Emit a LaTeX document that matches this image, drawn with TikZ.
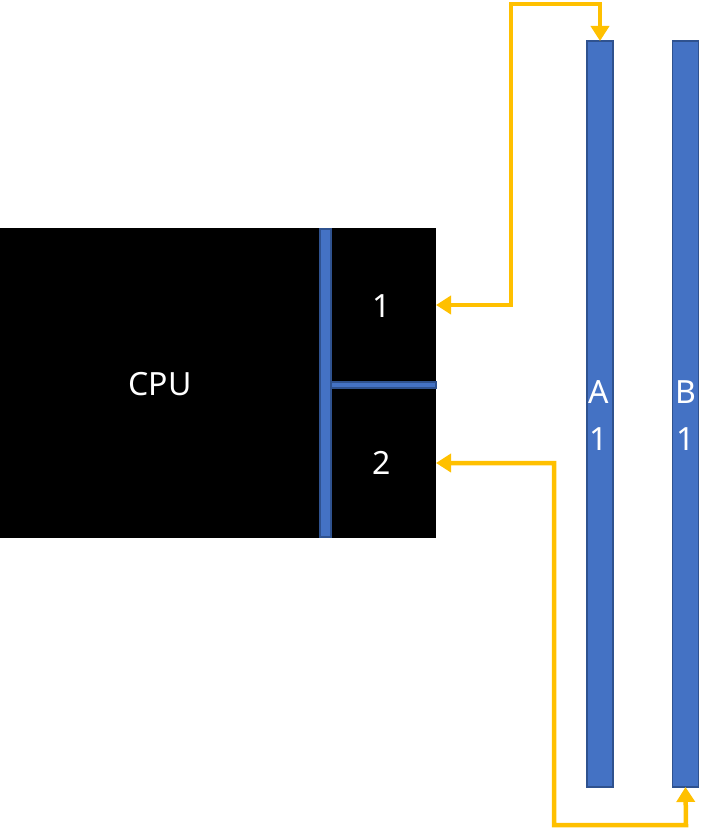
\documentclass[tikz,border=0pt]{standalone}
\usepackage{fontspec}
\setmainfont{Noto Sans}
\usetikzlibrary{arrows.meta}
\definecolor{barblue}{HTML}{4472C4}
\definecolor{baredge}{HTML}{2F528F}
\definecolor{linkgold}{HTML}{FFC000}
\begin{document}
\begin{tikzpicture}[x=1pt,y=-1pt,
  bar/.style={draw=baredge,line width=1.5pt,fill=barblue,inner sep=0pt,outer sep=0pt},
  lbl/.style={text=white,font=\fontsize{32}{47}\selectfont},
  link/.style={draw=linkgold,line width=4.5pt,
    {Triangle[width=18pt,length=15pt]}-{Triangle[width=18pt,length=15pt]}}]
\useasboundingbox (0,0) rectangle (719,829);
% CPU block
\fill[black] (0,228) rectangle (436,538);
\node[inner sep=0pt,outer sep=0pt,minimum width=436pt,minimum height=310pt] (cpu) at (218,383) {};
\node[lbl] (cpulbl) at (160,384) {CPU};
\node[bar,minimum width=11pt,minimum height=308pt] (vbus) at (325.5,383) {};
\node[bar,minimum width=105pt,minimum height=6pt] (hbus) at (383.5,385) {};
\node[lbl] (p1) at (382,306) {1};
\node[lbl] (p2) at (382,463) {2};
\coordinate (p1in) at (436,305);
\coordinate (p2in) at (436,463);
% memory bars
\node[bar,minimum width=26pt,minimum height=746pt] (A) at (600,414) {};
\node[bar,minimum width=26pt,minimum height=746pt] (B) at (685.5,414) {};
\node[lbl,align=center,inner sep=0pt] (Alb) at (599,416) {A\\1};
\node[lbl,align=center,inner sep=0pt] (Blb) at (686,416) {B\\1};
% links
\draw[link] (A.north) -- (600,4) -| (511,305) -- (p1in);
\draw[link] (p2in) -- (554,463) |- (686,825) -- (B.south);
\end{tikzpicture}
\end{document}
